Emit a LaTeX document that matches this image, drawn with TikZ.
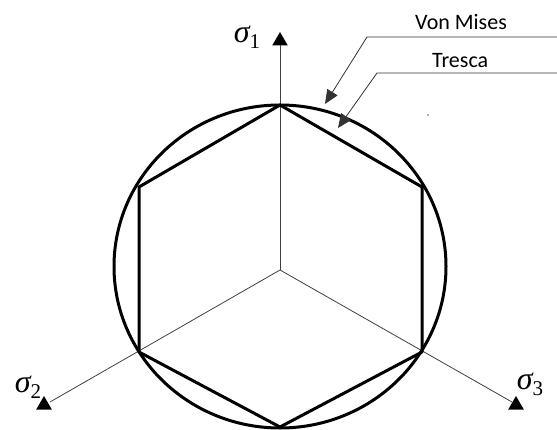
\documentclass[tikz,border=0pt]{standalone}
\usepackage{fontspec}
\setmainfont{Carlito}
\newfontfamily\sigfont{Liberation Serif}
\usetikzlibrary{arrows.meta,shapes.geometric}
\newcommand{\sigmasub}[1]{{\sigfont\fontsize{32}{34}\selectfont\itshape σ}\raisebox{-6pt}{\sigfont\fontsize{21}{23}\selectfont #1}}
\tikzset{
  thick outline/.style={line width=3pt, line join=round},
  axisline/.style={line width=0.8pt, draw=black!75},
  leader/.style={line width=0.8pt, draw=black!80, -{Triangle[length=14pt,width=12pt]}},
  tipmark/.style={regular polygon, regular polygon sides=3, fill=black, inner sep=0pt, minimum size=18pt},
  sigmalabel/.style={inner sep=0pt},
  textlabel/.style={inner sep=0pt, font=\fontsize{22}{24}\selectfont, anchor=base west},
}
\begin{document}
\begin{tikzpicture}[x=1pt,y=-1pt]
\useasboundingbox (0,0) rectangle (557,430);
% centre of axes
\coordinate (O) at (280,270);
% axis tips
\node[tipmark] (t1) at (280,41) {};
\node[tipmark] (t2) at (44,405) {};
\node[tipmark] (t3) at (516,405) {};
\coordinate (e1) at (280,45);
\coordinate (e2) at (50,402);
\coordinate (e3) at (512,402);
\draw[axisline] (O) -- (e1);
\draw[axisline] (O) -- (e2);
\draw[axisline] (O) -- (e3);
% von Mises circle
\coordinate (C) at (280,266.5);
\draw[thick outline] (C) ellipse [x radius=166, y radius=161.5];
% Tresca hexagon
\coordinate (h1) at (280,105);
\coordinate (h2) at (422,187);
\coordinate (h3) at (422,352);
\coordinate (h4) at (280,427);
\coordinate (h5) at (139,352);
\coordinate (h6) at (139,187);
\draw[thick outline] (h1) -- (h2) -- (h3) -- (h4) -- (h5) -- (h6) -- cycle;
% axis labels
\node[sigmalabel] (s1) at (247,37) {\sigmasub{1}};
\node[sigmalabel] (s2) at (28,387) {\sigmasub{2}};
\node[sigmalabel] (s3) at (530,384) {\sigmasub{3}};
% leader labels
\node[textlabel] (vm) at (415,30) {Von Mises};
\node[textlabel] (tr) at (432,68) {Tresca};
\coordinate (vmR) at (557,37);
\coordinate (vmK) at (367,37);
\coordinate (vmT) at (325,104);
\coordinate (trR) at (557,73);
\coordinate (trK) at (377,73);
\coordinate (trT) at (338,128);
\draw[leader] (vmR) -- (vmK) -- (vmT);
\draw[leader] (trR) -- (trK) -- (trT);
% small speck
\coordinate (sp) at (428,115);
\fill[black!60] (sp) circle (0.8);
\end{tikzpicture}
\end{document}
